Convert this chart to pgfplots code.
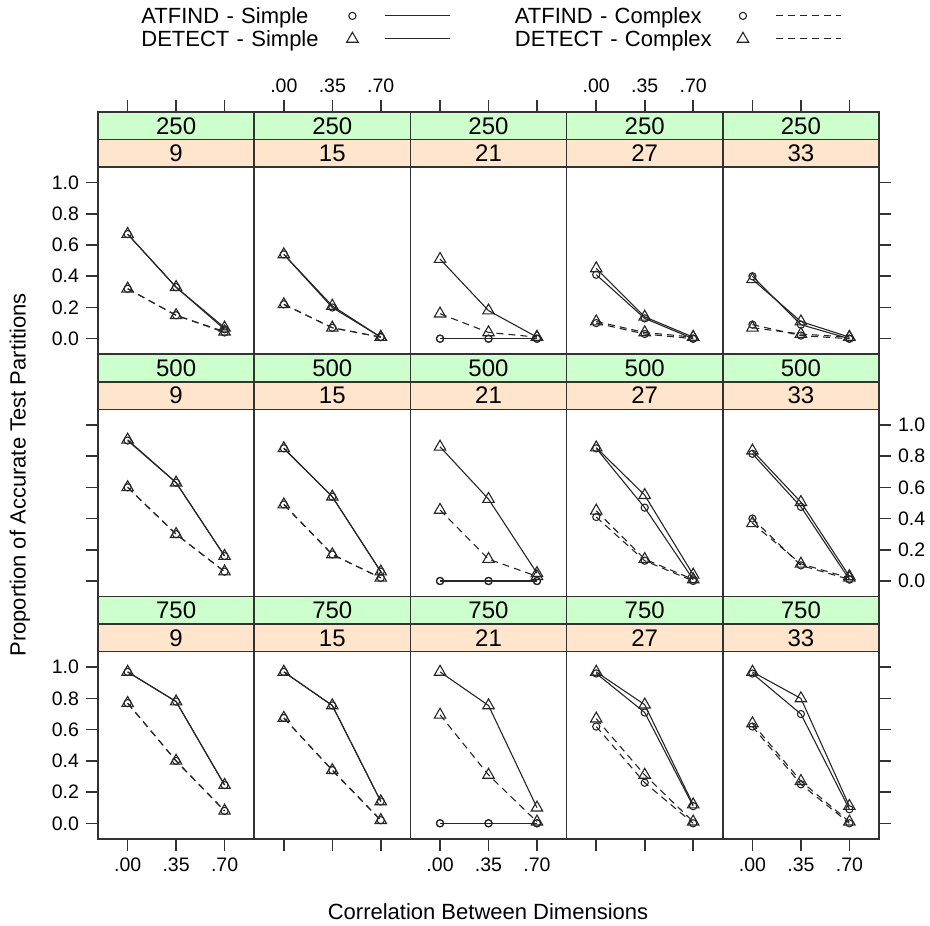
\documentclass[border=0pt]{standalone}
\usepackage{fontspec}
\setmainfont{Liberation Sans}
\usepackage{pgfplots}
\pgfplotsset{compat=1.18}
\usepackage{pgfplotstable}
\usepgfplotslibrary{groupplots}
\usetikzlibrary{calc}

\definecolor{stripgreen}{RGB}{204,255,204}
\definecolor{striporange}{RGB}{255,229,204}

% one table per panel: x = correlation, AS/AC = ATFIND simple/complex, DS/DC = DETECT simple/complex
% N = 250
\pgfplotstableread{
x    AS   AC   DS   DC
0.00 0.67 0.32 0.67 0.32
0.35 0.33 0.15 0.33 0.15
0.70 0.06 0.04 0.07 0.045
}\tAa
\pgfplotstableread{
x    AS   AC   DS   DC
0.00 0.54 0.22 0.54 0.22
0.35 0.20 0.07 0.21 0.07
0.70 0.01 0.01 0.01 0.01
}\tAb
\pgfplotstableread{
x    AS   AC   DS   DC
0.00 0.00 0.00 0.51 0.16
0.35 0.00 0.00 0.18 0.04
0.70 0.00 0.00 0.01 0.01
}\tAc
\pgfplotstableread{
x    AS   AC   DS   DC
0.00 0.41 0.10 0.45 0.11
0.35 0.13 0.03 0.14 0.04
0.70 0.00 0.00 0.01 0.01
}\tAd
\pgfplotstableread{
x    AS   AC   DS   DC
0.00 0.40 0.09 0.38 0.07
0.35 0.09 0.02 0.11 0.03
0.70 0.00 0.00 0.01 0.01
}\tAe
% N = 500
\pgfplotstableread{
x    AS   AC   DS   DC
0.00 0.90 0.60 0.905 0.60
0.35 0.63 0.30 0.63 0.30
0.70 0.16 0.06 0.16 0.06
}\tBa
\pgfplotstableread{
x    AS   AC   DS   DC
0.00 0.85 0.49 0.85 0.49
0.35 0.54 0.17 0.54 0.17
0.70 0.06 0.02 0.06 0.02
}\tBb
\pgfplotstableread{
x    AS   AC   DS   DC
0.00 0.00 0.00 0.86 0.455
0.35 0.00 0.00 0.525 0.14
0.70 0.00 0.00 0.05 0.03
}\tBc
\pgfplotstableread{
x    AS   AC   DS   DC
0.00 0.85 0.41 0.855 0.45
0.35 0.47 0.13 0.55 0.14
0.70 0.01 0.00 0.04 0.01
}\tBd
\pgfplotstableread{
x    AS   AC   DS   DC
0.00 0.815 0.40 0.835 0.37
0.35 0.475 0.10 0.505 0.11
0.70 0.01 0.01 0.03 0.02
}\tBe
% N = 750
\pgfplotstableread{
x    AS   AC   DS   DC
0.00 0.97 0.77 0.97 0.77
0.35 0.78 0.40 0.78 0.40
0.70 0.245 0.08 0.245 0.08
}\tCa
\pgfplotstableread{
x    AS   AC   DS   DC
0.00 0.97 0.675 0.97 0.675
0.35 0.755 0.34 0.755 0.34
0.70 0.14 0.02 0.14 0.02
}\tCb
\pgfplotstableread{
x    AS   AC   DS   DC
0.00 0.00 0.00 0.97 0.695
0.35 0.00 0.00 0.755 0.31
0.70 0.00 0.00 0.10 0.01
}\tCc
\pgfplotstableread{
x    AS   AC   DS   DC
0.00 0.96 0.62 0.97 0.67
0.35 0.71 0.26 0.76 0.31
0.70 0.11 0.00 0.12 0.01
}\tCd
\pgfplotstableread{
x    AS   AC   DS   DC
0.00 0.96 0.62 0.97 0.64
0.35 0.70 0.25 0.80 0.27
0.70 0.09 0.00 0.11 0.01
}\tCe

\pgfplotsset{
  aS/.style={black!85, line width=0.55pt, mark=o, mark size=1.8pt, mark options={solid}},
  aC/.style={aS, dash pattern=on 3.5pt off 2.5pt},
  dS/.style={black!85, line width=0.55pt, mark=triangle, mark size=3.3pt, mark options={solid}},
  dC/.style={dS, dash pattern=on 3.5pt off 2.5pt},
  topx/.style={xtick={0,0.35,0.7}, xtick pos=right},
  botx/.style={xtick={0,0.35,0.7}, xtick pos=left},
  nolabx/.style={xticklabels={,,}},
  lefty/.style={ytick={0,0.2,0.4,0.6,0.8,1}, ytick pos=left},
  righty/.style={ytick={0,0.2,0.4,0.6,0.8,1}, ytick pos=right},
  nolaby/.style={yticklabels={,,,,,}},
}

\newcommand{\stripfont}{\fontsize{12}{13}\selectfont}
\newcommand{\panel}[3]{%
  \addplot[aS] table[x=x, y=AS] {#1};
  \addplot[aC] table[x=x, y=AC] {#1};
  \addplot[dS] table[x=x, y=DS] {#1};
  \addplot[dC] table[x=x, y=DC] {#1};
  \draw[black!80, line width=0.8pt, fill=striporange] (axis cs:-0.214,1.1) rectangle (axis cs:0.914,1.2763);
  \draw[black!80, line width=0.8pt, fill=stripgreen] (axis cs:-0.214,1.2763) rectangle (axis cs:0.914,1.4526);
  \node[font=\stripfont] at (axis cs:0.35,1.1882) {#3};
  \node[font=\stripfont] at (axis cs:0.35,1.3645) {#2};
}

\begin{document}
\begin{tikzpicture}
\begin{groupplot}[
  group style={group size=5 by 3, horizontal sep=0pt, vertical sep=0pt},
  width=78.1pt, height=121.15pt, scale only axis,
  xmin=-0.214, xmax=0.914, ymin=-0.1, ymax=1.4526,
  axis on top,
  axis line style={black!80, line width=0.8pt},
  xtick=\empty, ytick=\empty,
  tick align=outside, major tick length=6pt,
  every tick/.style={black!80, line width=0.8pt},
  xticklabels={.00,.35,.70},
  yticklabels={0.0,0.2,0.4,0.6,0.8,1.0},
  tick label style={font=\fontsize{9.75}{10}\selectfont},
]
\nextgroupplot[topx, nolabx, lefty,
  legend entries={ATFIND - Simple, ATFIND - Complex, DETECT - Simple, DETECT - Complex},
  legend columns=2,
  legend plot pos=right,
  legend style={draw=none, fill=none, at={(0.2753,1.4333)}, anchor=north west,
    inner sep=0pt, font=\fontsize{11}{12}\selectfont,
    nodes={inner sep=0pt},
    /tikz/column 1/.style={text width=90.5pt, text height=8pt, text depth=2.5pt},
    /tikz/column 3/.style={text width=99pt, text height=8pt, text depth=2.5pt},
    /tikz/column 2/.style={column sep=32pt},
    /tikz/row sep=2pt},
  legend image code/.code={
    \path[draw=none] (0pt,0.5pt) -- (64pt,0.5pt);
    \draw[#1] plot coordinates {(15pt,0.5pt)};
    \draw[#1, mark=none] (31.5pt,0.5pt) -- (64pt,0.5pt);
  },
]
\panel{\tAa}{250}{9}
\nextgroupplot[topx]
\panel{\tAb}{250}{15}
\nextgroupplot[topx, nolabx]
\panel{\tAc}{250}{21}
\nextgroupplot[topx]
\panel{\tAd}{250}{27}
\nextgroupplot[topx, nolabx, righty, nolaby]
\panel{\tAe}{250}{33}

\nextgroupplot[lefty, nolaby]
\panel{\tBa}{500}{9}
\nextgroupplot
\panel{\tBb}{500}{15}
\nextgroupplot
\panel{\tBc}{500}{21}
\nextgroupplot
\panel{\tBd}{500}{27}
\nextgroupplot[righty]
\panel{\tBe}{500}{33}

\nextgroupplot[botx, lefty]
\panel{\tCa}{750}{9}
\nextgroupplot[botx, nolabx]
\panel{\tCb}{750}{15}
\nextgroupplot[botx]
\panel{\tCc}{750}{21}
\nextgroupplot[botx, nolabx]
\panel{\tCd}{750}{27}
\nextgroupplot[botx, righty, nolaby]
\panel{\tCe}{750}{33}
\end{groupplot}

\node[rotate=90, font=\fontsize{11}{12}\selectfont] at ($(group c1r1.north west)+(-39pt,-181.5pt)$) {Proportion of Accurate Test Partitions};
\node[font=\fontsize{11}{12}\selectfont] at ($(group c1r1.north west)+(195pt,-400pt)$) {Correlation Between Dimensions};
\pgfresetboundingbox
\path ($(group c1r1.north west)+(-49pt,56pt)$) rectangle ($(group c1r1.north west)+(416pt,-406.5pt)$);
\end{tikzpicture}
\end{document}
